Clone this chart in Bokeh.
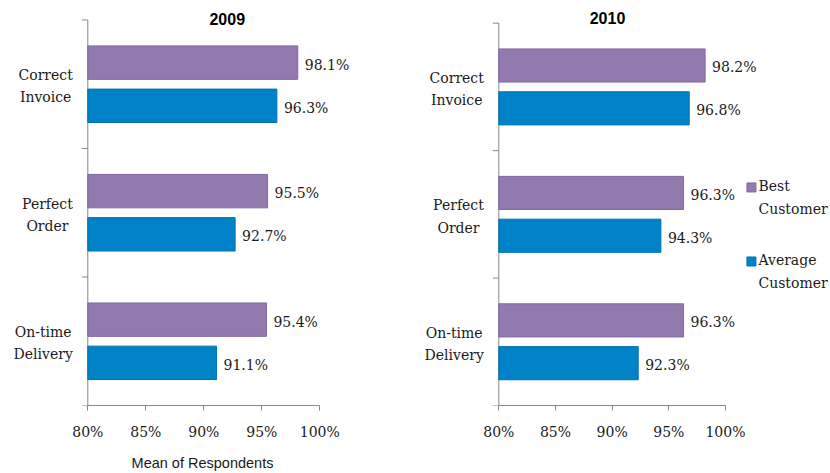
import math
from bokeh.plotting import figure
from bokeh.layouts import row
from bokeh.models import Range1d, FixedTicker, PrintfTickFormatter
from bokeh.core.properties import value
from bokeh.embed import file_html
from bokeh.resources import INLINE

# ---- data ----
categories = ["Correct\nInvoice", "Perfect\nOrder", "On-time\nDelivery"]
years = ["2009", "2010"]
best_2009 = [98.1, 95.5, 95.4]
avg_2009 = [96.3, 92.7, 91.1]
best_2010 = [98.2, 96.3, 96.3]
avg_2010 = [96.8, 94.3, 92.3]
x_ticks = [80, 85, 90, 95, 100]
series_names = ["Best\nCustomer", "Average\nCustomer"]

PURPLE = "#9279AE"
PURPLE_EDGE = "#8068A0"
BLUE = "#0082C8"
BLUE_EDGE = "#0072B4"
AXIS = "#888888"
TXT = "#1a1a1a"
SERIF = value("DejaVu Serif")
SANS = value("Liberation Sans")


def make_panel(title, best, avg, width, height, x_rng, y_top, min_bottom,
               title_xy, axis_label=None, legend_xy=None):
    p = figure(width=width, height=height, output_backend="svg",
               toolbar_location=None, x_range=Range1d(*x_rng),
               y_range=Range1d(0, y_top), min_border_left=0,
               min_border_right=0, min_border_top=0,
               min_border_bottom=min_bottom)
    p.outline_line_color = None
    p.grid.visible = False
    p.background_fill_color = "white"
    p.yaxis.visible = False

    n = len(categories)
    centers = [n - i - 0.5 for i in range(n)]
    base = x_ticks[0]
    y_best = [c + 0.168 for c in centers]
    y_avg = [c - 0.168 for c in centers]

    # vertical category axis at the 80% position, with boundary ticks
    p.segment(x0=[base], y0=[0], x1=[base], y1=[n], line_color=AXIS,
              line_width=1)
    p.ray(x=[base] * (n + 1), y=list(range(n + 1)), length=6,
          length_units="screen", angle=math.pi, line_color=AXIS, line_width=1)

    p.hbar(y=y_best, left=base, right=best, height=0.26,
           fill_color=PURPLE, line_color=PURPLE_EDGE, line_width=1)
    p.hbar(y=y_avg, left=base, right=avg, height=0.26,
           fill_color=BLUE, line_color=BLUE_EDGE, line_width=1)

    p.text(x=best, y=y_best, text=[f"{v:.1f}%" for v in best],
           text_font=SERIF, text_font_size="14px", text_color=TXT,
           text_align="left", text_baseline="middle", x_offset=7, y_offset=2)
    p.text(x=avg, y=y_avg, text=[f"{v:.1f}%" for v in avg],
           text_font=SERIF, text_font_size="14px", text_color=TXT,
           text_align="left", text_baseline="middle", x_offset=7, y_offset=2)

    # category labels
    p.text(x=[base] * n, y=centers, text=categories, text_font=SERIF,
           text_font_size="14px", text_color=TXT, anchor="center_right",
           text_align="center", text_line_height=1.4, x_offset=-15,
           y_offset=2)

    # title
    p.text(x=[title_xy[0]], y=[title_xy[1]], text=[title], text_font=SANS,
           text_font_style="bold", text_font_size="16px", text_color="black",
           text_align="center", text_baseline="middle")

    # x axis
    xa = p.xaxis[0]
    xa.ticker = FixedTicker(ticks=x_ticks)
    xa.bounds = (x_ticks[0], x_ticks[-1])
    xa.formatter = PrintfTickFormatter(format="%d%%")
    xa.axis_line_color = AXIS
    xa.major_tick_line_color = AXIS
    xa.major_tick_out = 5
    xa.major_tick_in = 0
    xa.minor_tick_line_color = None
    xa.major_label_standoff = 13
    xa.major_label_text_font = "DejaVu Serif"
    xa.major_label_text_font_size = "14px"
    xa.major_label_text_color = TXT
    if axis_label:
        xa.axis_label = axis_label
        xa.axis_label_text_font = "Liberation Sans"
        xa.axis_label_text_font_style = "normal"
        xa.axis_label_text_font_size = "14.5px"
        xa.axis_label_text_color = TXT
        xa.axis_label_standoff = 12

    if legend_xy is not None:
        lx, ly1, ly2 = legend_xy
        p.scatter(x=[lx, lx], y=[ly1, ly2], marker="square", size=9,
                  fill_color=[PURPLE, BLUE], line_color=[PURPLE_EDGE, BLUE_EDGE])
        p.text(x=[lx, lx], y=[ly1, ly2], text=series_names, text_font=SERIF,
               text_font_size="14px", text_color=TXT, anchor="top_left",
               text_align="left", text_line_height=1.4, x_offset=7,
               y_offset=-9)
    return p


p1 = make_panel(years[0], best_2009, avg_2009, 404, 473,
                (72.474, 107.302), 3.1514, 67, (92.02, 3.005),
                axis_label="Mean of Respondents")
p2 = make_panel(years[1], best_2010, avg_2010, 426, 473,
                (71.677, 109.267), 3.178, 68, (89.59, 3.041),
                legend_xy=(102.29, 1.711, 1.130))

layout = row(p1, p2)
open("out.html", "w").write(file_html(layout, INLINE))
